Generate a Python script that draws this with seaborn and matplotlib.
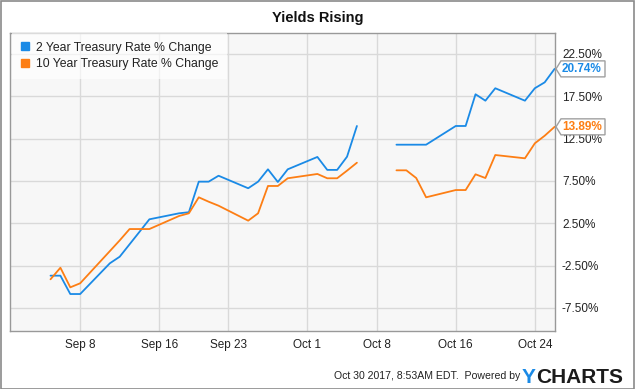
import numpy as np
import pandas as pd
import matplotlib
matplotlib.use("Agg")
import matplotlib.pyplot as plt
import seaborn as sns
from matplotlib.lines import Line2D
from matplotlib.patches import Polygon, Rectangle
from matplotlib.transforms import IdentityTransform

# ---------------- data ----------------
dates = [
    "2017-09-05", "2017-09-06", "2017-09-07", "2017-09-08",
    "2017-09-11", "2017-09-12", "2017-09-13", "2017-09-14", "2017-09-15",
    "2017-09-18", "2017-09-19", "2017-09-20", "2017-09-21", "2017-09-22",
    "2017-09-25", "2017-09-26", "2017-09-27", "2017-09-28", "2017-09-29",
    "2017-10-02", "2017-10-03", "2017-10-04", "2017-10-05", "2017-10-06",
    "2017-10-09", "2017-10-10", "2017-10-11", "2017-10-12", "2017-10-13",
    "2017-10-16", "2017-10-17", "2017-10-18", "2017-10-19", "2017-10-20",
    "2017-10-23", "2017-10-24", "2017-10-25", "2017-10-26",
]
two_year = [
    -3.70, -3.70, -5.87, -5.87,
    -2.24, -1.46, 0.01, 1.48, 2.96,
    3.67, 3.80, 7.41, 7.41, 8.11,
    6.63, 7.41, 8.87, 7.37, 8.87,
    10.33, 8.80, 8.80, 10.36, 13.99,
    np.nan, 11.78, 11.78, 11.78, 11.78,
    13.99, 13.99, 17.74, 16.98, 18.45,
    16.98, 18.45, 19.15, 20.74,
]
ten_year = [
    -4.13, -2.76, -5.08, -4.60,
    -0.80, 0.47, 1.81, 1.81, 1.81,
    3.35, 3.67, 5.56, 5.04, 4.57,
    2.80, 3.67, 6.90, 6.90, 7.81,
    8.32, 7.81, 7.81, 8.71, 9.65,
    np.nan, 8.75, 8.75, 7.84, 5.56,
    6.42, 6.42, 8.28, 7.84, 10.56,
    10.17, 11.94, 12.84, 13.89,
]
series_names = ["2 Year Treasury Rate % Change", "10 Year Treasury Rate % Change"]
colors = ["#1a8ae6", "#fd7e14"]

x_tick_dates = ["2017-09-08", "2017-09-16", "2017-09-23", "2017-10-01",
                "2017-10-08", "2017-10-16", "2017-10-24"]
x_tick_labels = ["Sep 8", "Sep 16", "Sep 23", "Oct 1", "Oct 8", "Oct 16", "Oct 24"]
y_ticks = [-7.5, -2.5, 2.5, 7.5, 12.5, 17.5, 22.5]
y_tick_labels = ["%.2f%%" % v for v in y_ticks]

title = "Yields Rising"
footer = "Oct 30 2017, 8:53AM EDT.  Powered by"

# ---------------- frame ----------------
df = pd.DataFrame({"date": pd.to_datetime(dates),
                   series_names[0]: two_year,
                   series_names[1]: ten_year})
df["seg"] = df[series_names[0]].isna().cumsum()
long = df.melt(id_vars=["date", "seg"], var_name="series", value_name="value").dropna()

# ---------------- style ----------------
sns.set_theme(style="whitegrid")
plt.rcParams["font.family"] = ["Liberation Sans", "DejaVu Sans"]
plt.rcParams["axes.facecolor"] = "#f7f7f7"
plt.rcParams["grid.color"] = "#d9d9d9"
plt.rcParams["grid.linewidth"] = 1.0

W, H = 635, 389
fig = plt.figure(figsize=(W / 100, H / 100), dpi=100)
fig.patch.set_facecolor("white")
ax = fig.add_axes([10 / W, 1 - 331 / H, 545 / W, 298 / H])

sns.lineplot(data=long, x="date", y="value", hue="series", units="seg",
             estimator=None, palette=colors, hue_order=series_names,
             linewidth=1.3, legend=False, ax=ax)

ax.set_xlim(pd.Timestamp("2017-09-08") - pd.Timedelta(days=7.1),
            pd.Timestamp("2017-10-26") + pd.Timedelta(hours=1))
ax.set_ylim(-10.24, 24.98)

ax.set_xticks(pd.to_datetime(x_tick_dates))
ax.set_xticklabels(x_tick_labels)
ax.set_yticks(y_ticks)
ax.set_yticklabels(y_tick_labels)
ax.yaxis.tick_right()
ax.tick_params(axis="both", length=0, labelsize=8.5, colors="#222222")
ax.tick_params(axis="y", pad=5)
ax.tick_params(axis="x", pad=6)
ax.set_xlabel("")
ax.set_ylabel("")
ax.grid(True, color="#d9d9d9", linewidth=1.0)
for sp in ax.spines.values():
    sp.set_visible(True)
    sp.set_color("#999999")
    sp.set_linewidth(1.0)

# legend
handles = [Line2D([0], [0], marker="s", linestyle="none", markersize=6,
                  markerfacecolor=c, markeredgecolor=c) for c in colors]
leg = ax.legend(handles, series_names, loc="upper left",
                bbox_to_anchor=(2 / 545, 1.0), borderaxespad=0,
                frameon=True, framealpha=0.65, facecolor="white",
                edgecolor="none", fancybox=False, fontsize=8.8,
                handlelength=0.8, handletextpad=0.45, labelspacing=0.4,
                borderpad=0.7)
for t in leg.get_texts():
    t.set_color("#222222")

# title
fig.text(0.5, 1 - 18 / H, title, ha="center", va="center",
         fontsize=10.5, fontweight="bold", color="#111111")

# end-value callouts
fig.canvas.draw()
last_vals = [two_year[-1], ten_year[-1]]
last_date = pd.to_datetime(dates[-1])
for val, c in zip(last_vals, colors):
    px, py = ax.transData.transform((matplotlib.dates.date2num(last_date), val))
    x0 = ax.transAxes.transform((1, 0))[0] + 1
    h = 8
    poly = Polygon([(x0, py), (x0 + 5, py + h), (x0 + 49, py + h),
                    (x0 + 49, py - h), (x0 + 5, py - h)], closed=True,
                   transform=IdentityTransform(), facecolor="white",
                   edgecolor="#a0a0a0", linewidth=1.0, zorder=5)
    fig.add_artist(poly)
    fig.text(x0 + 6, py, "%.2f%%" % val, transform=IdentityTransform(),
             ha="left", va="center", fontsize=8.5, fontweight="bold",
             color=c, zorder=6)

# footer
fy = 1 - 376 / H
fig.text(520 / W, fy, footer, ha="right", va="center", fontsize=7.6,
         color="#222222")
ylogo = fig.text(522 / W, fy - 0.003, "Y", ha="left", va="center",
                 fontsize=15, fontweight="bold", color="#1a8ae6")
ax.annotate("CHARTS", xy=(1, 0.5), xycoords=ylogo, ha="left", va="center",
            fontsize=15, fontweight="bold", color="#1b1b1b",
            annotation_clip=False)

# outer border
fig.add_artist(Rectangle((0.5 / W, 0.5 / H), 1 - 1.5 / W, 1 - 1.5 / H,
                         transform=fig.transFigure, fill=False,
                         edgecolor="#8a8a8a", linewidth=1.2))

fig.savefig("out.png", dpi=100)
